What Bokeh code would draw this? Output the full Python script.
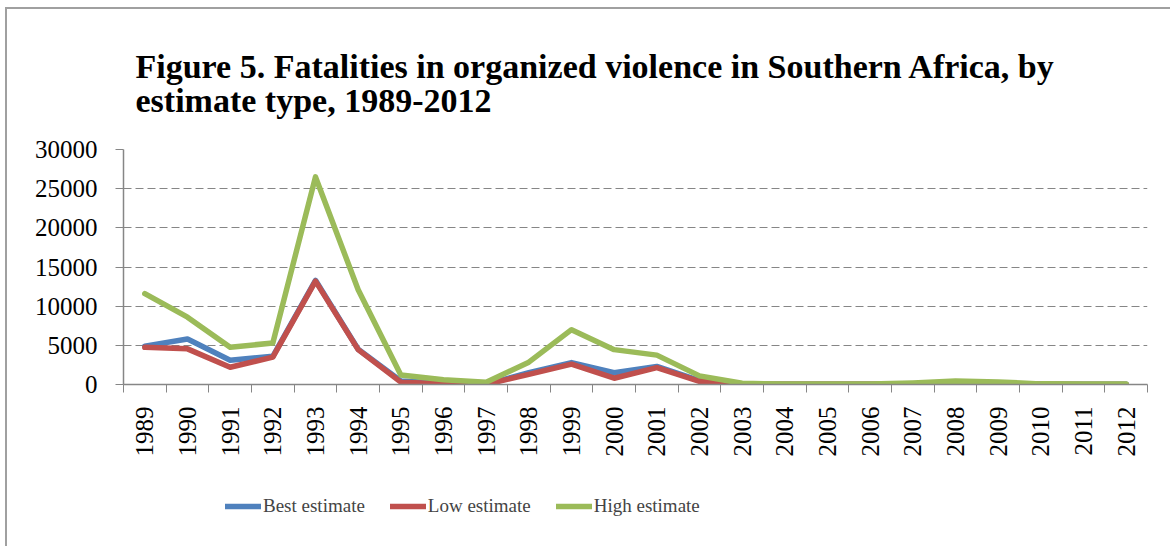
import math
from bokeh.plotting import figure
from bokeh.layouts import column
from bokeh.models import (Range1d, LinearAxis, FixedTicker, Legend, LegendItem,
                          Title, ColumnDataSource, Grid)
from bokeh.embed import file_html
from bokeh.resources import INLINE

years = [str(y) for y in range(1989, 2013)]
best = [4900, 5800, 3100, 3600, 13300, 4500, 450, 150, 50, 1500, 2800, 1500,
        2300, 500, 50, 30, 30, 30, 60, 250, 150, 30, 20, 20]
low = [4750, 4550, 2200, 3500, 13200, 4450, 300, 100, 30, 1300, 2600, 800,
       2150, 400, 30, 20, 20, 20, 40, 200, 100, 20, 10, 10]
high = [11600, 8600, 4750, 5300, 26500, 12100, 1200, 600, 300, 2850, 7000, 4450,
        3750, 1100, 150, 60, 60, 60, 200, 450, 330, 80, 50, 50]
series_names = ["Best estimate", "Low estimate", "High estimate"]
colors = ["#4F81BD", "#C0504D", "#9BBB59"]
y_ticks = [0, 5000, 10000, 15000, 20000, 25000, 30000]
title_text = ("Figure 5. Fatalities in organized violence in Southern Africa, by\n"
              "estimate type, 1989-2012")

xs = [i + 0.5 for i in range(len(years))]
src = ColumnDataSource(dict(x=xs, best=best, low=low, high=high))

SERIF = "Liberation Serif"
TICKFONT = "Liberation Serif"
GRAY = "#868686"

p = figure(width=1165, height=470, output_backend="svg", toolbar_location=None,
           x_range=Range1d(0, len(years)), y_range=Range1d(0, 30000),
           x_axis_type=None, y_axis_type=None,
           min_border_left=116, min_border_right=25, min_border_top=140,
           min_border_bottom=95)
p.styles = {"margin-left": "5px", "margin-top": "7px",
            "border-left": "2px solid #a0a0a0", "border-top": "2px solid #a0a0a0"}
p.outline_line_color = None
p.background_fill_color = "white"
p.border_fill_color = "white"

# y axis
yax = LinearAxis(ticker=FixedTicker(ticks=y_ticks))
yax.axis_line_color = GRAY
yax.axis_line_width = 1.5
yax.major_tick_line_color = GRAY
yax.major_tick_out = 8
yax.major_tick_in = 0
yax.minor_tick_line_color = None
yax.major_label_text_font = TICKFONT
yax.major_label_text_font_size = "25px"
yax.major_label_text_color = "black"
yax.major_label_standoff = 18
p.add_layout(yax, "left")

# x tick axis (category boundaries)
xtick = LinearAxis(ticker=FixedTicker(ticks=list(range(len(years) + 1))))
xtick.axis_line_color = GRAY
xtick.axis_line_width = 1.5
xtick.major_tick_line_color = GRAY
xtick.major_tick_out = 8
xtick.major_tick_in = 0
xtick.minor_tick_line_color = None
xtick.major_label_overrides = {i: "" for i in range(len(years) + 1)}
xtick.major_label_standoff = 0
xtick.major_label_text_font_size = "1px"
p.add_layout(xtick, "below")

# x label axis (category centers)
xlab = LinearAxis(ticker=FixedTicker(ticks=xs))
xlab.axis_line_color = None
xlab.major_tick_line_color = None
xlab.minor_tick_line_color = None
xlab.major_label_overrides = {x: y for x, y in zip(xs, years)}
xlab.major_label_orientation = math.pi / 2
xlab.major_label_text_font = TICKFONT
xlab.major_label_text_font_size = "25px"
xlab.major_label_text_color = "black"
xlab.major_label_standoff = 8
p.add_layout(xlab, "below")

# grid
g = Grid(dimension=1, ticker=FixedTicker(ticks=y_ticks[1:]))
g.grid_line_color = GRAY
g.grid_line_dash = "8 4"
g.grid_line_width = 1.2
p.add_layout(g)

for key, c in zip(["best", "low", "high"], colors):
    p.line("x", key, source=src, line_color=c, line_width=5.5,
           line_join="round", line_cap="round")

t = Title(text=title_text, align="left", offset=12,
          text_font=SERIF, text_font_size="34px", text_font_style="bold",
          text_color="black", text_line_height=0.92, standoff=60)
p.add_layout(t, "above")

# legend panel (swatch renderers sit outside the visible range)
p2 = figure(width=1165, height=69, output_backend="svg", toolbar_location=None,
            x_range=Range1d(0, 1), y_range=Range1d(0, 1),
            x_axis_type=None, y_axis_type=None,
            min_border=0)
p2.styles = {"margin-left": "5px", "border-left": "2px solid #a0a0a0"}
p2.outline_line_color = None
p2.grid.visible = False
p2.border_fill_color = "white"
leg_renderers = [p2.line(x=[5, 6], y=[5, 5], line_color=c, line_width=5.5,
                         line_cap="round")
                 for c in colors]
legend = Legend(items=[LegendItem(label=n, renderers=[r])
                       for n, r in zip(series_names, leg_renderers)],
                orientation="horizontal", location=(102, 29))
legend.label_text_font = SERIF
legend.label_text_font_size = "19px"
legend.label_standoff = 2
legend.glyph_width = 36
legend.spacing = 25
legend.padding = 0
legend.margin = 0
legend.border_line_color = None
legend.background_fill_alpha = 0
p2.add_layout(legend, "center")

layout = column(p, p2, spacing=0)
open("out.html", "w").write(file_html(layout, INLINE))
